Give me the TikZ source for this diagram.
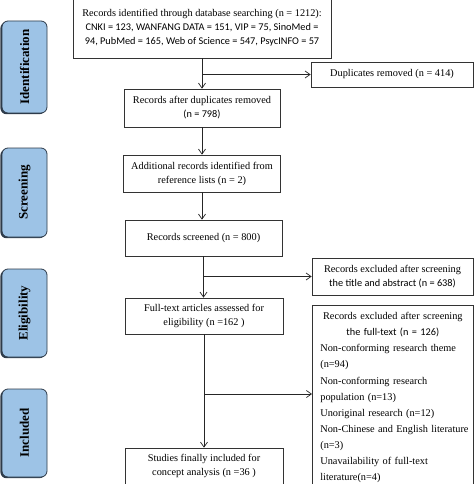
\documentclass[tikz,border=0pt]{standalone}
\usepackage{fontspec}
\setmainfont{Liberation Serif}
\newfontfamily\calfont{Carlito}
\usetikzlibrary{arrows.meta,shadows}
\definecolor{sidefill}{HTML}{9DC3E6}
\definecolor{sidedraw}{HTML}{2E3B4A}
\begin{document}
\begin{tikzpicture}[x=1pt,y=-1pt,
  box/.style={draw=black!80, line width=0.7pt, fill=white, inner sep=2pt, align=center,
    font=\fontsize{10.3}{14}\selectfont},
  side/.style={draw=sidedraw, line width=0.8pt, fill=sidefill, rounded corners=6pt,
    minimum width=45pt, inner sep=0pt, font=\fontsize{13}{13}\selectfont\bfseries,
    drop shadow={shadow xshift=-1.6pt, shadow yshift=-1.2pt, fill=sidedraw, opacity=1}},
  arr/.style={-{Straight Barb[length=5pt,width=7pt]}, line width=0.7pt, draw=black!85}]
\useasboundingbox (0,0) rectangle (474,484);
\clip (0,0) rectangle (474,484);
\fill[white] (0,0) rectangle (474,484);

% side labels
\node[side, minimum height=92pt] (s1) at (24.5,67) {\rotatebox{90}{Identification}};
\node[side, minimum height=89pt] (s2) at (24.5,192.5) {\rotatebox{90}{Screening}};
\node[side, minimum height=88pt] (s3) at (24.5,313) {\rotatebox{90}{Eligibility}};
\node[side, minimum height=88pt] (s4) at (24.5,433) {\rotatebox{90}{Included}};

% main boxes
\node[box, minimum width=258pt, minimum height=60pt] (A) at (202,28)
  {Records identified through database searching (n = 1212):\\
   {\calfont CNKI = 123, WANFANG DATA = 151, VIP = 75, SinoMed =}\\
   {\calfont 94, PubMed = 165, Web of Science = 547, PsycINFO = 57}};
\node[box, minimum width=162pt, minimum height=25pt] (B) at (392,74.5)
  {Duplicates removed (n = 414)};
\node[box, minimum width=156pt, minimum height=38pt] (C) at (202,108)
  {Records after duplicates removed\\ {\calfont (n = 798)}};
\node[box, minimum width=157pt, minimum height=37pt] (D) at (202,173.5)
  {Additional records identified from\\ reference lists (n = 2)};
\node[box, minimum width=157pt, minimum height=36pt] (E) at (203.5,238)
  {Records screened (n = 800)};
\node[box, minimum width=161pt, minimum height=37pt] (F) at (392.5,276.5)
  {Records excluded after screening\\ {\calfont the title and abstract (n = 638)}};
\node[box, minimum width=158pt, minimum height=36pt] (G) at (204,316)
  {Full-text articles assessed for\\ eligibility (n =162 )};
\node[box, minimum width=161pt, minimum height=186pt, inner sep=0pt, text width=161pt,
  align=left, anchor=north west, font=\fontsize{10.3}{16.1}\selectfont] (H) at (312,305)
  {\vbox to 186pt{\vskip 7pt
   \centerline{Records excluded after screening}
   \centerline{\calfont the full-text (n = 126)}
   \leftskip=8pt
   Non-conforming research theme\\
   (n=94)\\
   Non-conforming research\\
   population (n=13)\\
   Unoriginal research (n=12)\\
   Non-Chinese and English literature\\
   (n=3)\\
   Unavailability of full-text\\
   literature(n=4)\par\vfill}};
\node[box, minimum width=158pt, minimum height=36pt] (I) at (204,466)
  {Studies finally included for\\ concept analysis (n =36 )};

% connectors
\draw[arr] (A.south) -- (C.north);
\draw[arr] (A.south |- B.west) -- (B.west);
\draw[arr] (C.south) -- (D.north);
\draw[arr] (D.south) -- (D.south |- E.north);
\draw[arr] (E.south) -- (E.south |- G.north);
\draw[arr] (E.south |- F.west) -- (F.west);
\draw[arr] (G.south) -- (I.north);
\coordinate (hb) at (312,394);
\draw[arr] (G.south |- hb) -- (hb);
\end{tikzpicture}
\end{document}
